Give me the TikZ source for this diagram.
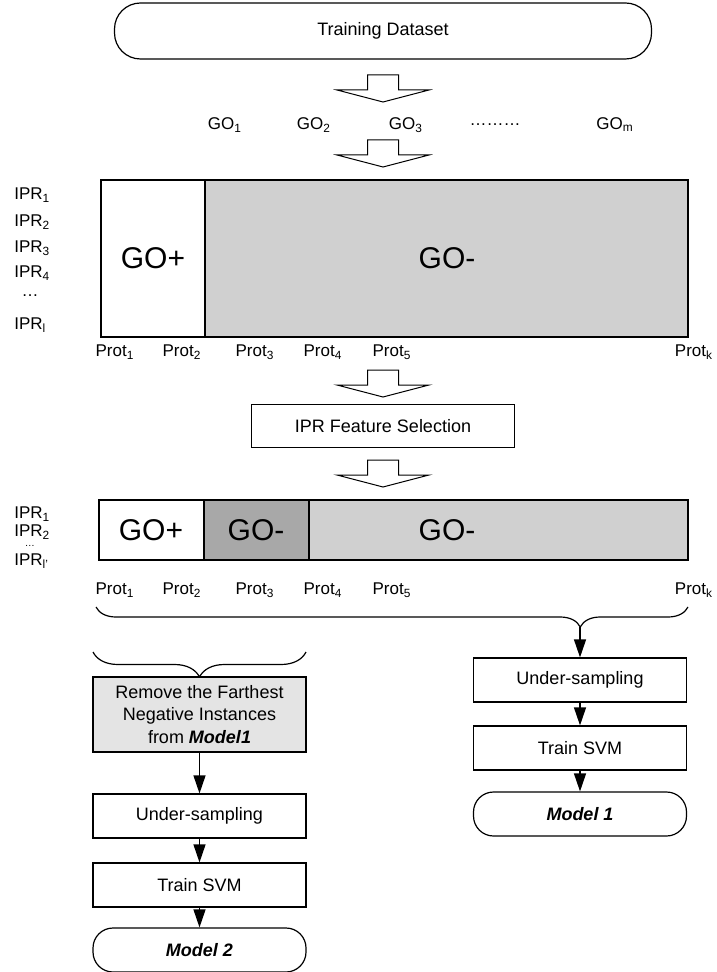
\documentclass[tikz,border=0pt]{standalone}
\usepackage{fontspec}
\setmainfont{Liberation Sans}
\usetikzlibrary{arrows.meta}
\usetikzlibrary{decorations.pathreplacing}

\definecolor{lightgrey}{HTML}{D0D0D0}
\definecolor{darkgrey}{HTML}{A8A8A8}
\definecolor{boxgrey}{HTML}{E4E4E4}

\tikzset{
  box/.style={draw, line width=0.6pt, minimum width=106.5pt, minimum height=22pt, inner sep=0pt, align=center, font=\fontsize{9}{11.25}\selectfont},
  term/.style={box, rounded corners=10pt},
  lbl/.style={inner sep=0pt, font=\fontsize{8.5}{10}\selectfont},
  big/.style={inner sep=0pt, font=\fontsize{15}{18}\selectfont},
  flow/.style={-{Triangle[length=9pt,width=6pt]}, line width=0.6pt},
  block/.style={line width=0.6pt},
  hollow/.pic={\draw [line width=0.5pt, fill=white] (-15.5,0) -- (15.5,0) -- (15.5,15) -- (46,15) -- (0,27) -- (-46,15) -- (-15.5,15) -- cycle;}
}

\begin{document}
\begin{tikzpicture}[x=0.5pt, y=-0.5pt]
      \useasboundingbox (0,0) rectangle (716,972);

      \node [term, minimum width=268.5pt, minimum height=28pt, rounded corners=13pt] (train) at (383,31) {Training Dataset};
      \pic at (383,75) {hollow};

      \node [lbl] (go1) at (225,125) {GO\textsubscript{1}};
      \node [lbl] (go2) at (314,125) {GO\textsubscript{2}};
      \node [lbl] (go3) at (406,125) {GO\textsubscript{3}};
      \node [lbl] (godots) at (495,125) {\dots\dots\dots};
      \node [lbl] (gom) at (615,125) {GO\textsubscript{m}};
      \pic at (383,140) {hollow};

      \draw [block, fill=lightgrey] (101,180) rectangle (688,337);
      \draw [block, fill=white] (101,180) rectangle (205,337);
      \node [big] (pos1) at (153,258) {GO+};
      \node [big] (neg1) at (447,258) {GO-};

      \foreach \i/\y in {1/195,2/222,3/248,4/273}
        \node [lbl, anchor=west] (ipra\i) at (14,\y) {IPR\textsubscript{\i}};
      \node [lbl] (iprdotsa) at (30,296) {\dots};
      \node [lbl, anchor=west] (ipral) at (14,325) {IPR\textsubscript{l}};

      \foreach \i/\x in {1/115,2/182,3/255,4/323,5/392,k/694}
        \node [lbl] (prota\i) at (\x,352) {Prot\textsubscript{\i}};

      \pic at (383,370) {hollow};
      \node [box, minimum width=131.5pt, minimum height=21.5pt] (select) at (383,426) {IPR Feature Selection};
      \pic at (383,460) {hollow};

      \draw [block, fill=lightgrey] (99,500) rectangle (688,560);
      \draw [block, fill=darkgrey] (204,500) rectangle (309,560);
      \draw [block, fill=white] (99,500) rectangle (204,560);
      \node [big] (pos2) at (151,530) {GO+};
      \node [big] (neg2) at (256,530) {GO-};
      \node [big] (neg3) at (447,530) {GO-};

      \node [lbl, anchor=west] (iprb1) at (14,514) {IPR\textsubscript{1}};
      \node [lbl, anchor=west] (iprb2) at (14,532) {IPR\textsubscript{2}};
      \node [lbl, font=\fontsize{5}{6}\selectfont] (iprdotsb) at (30,546) {\dots};
      \node [lbl, anchor=west] (iprbl) at (14,561) {IPR\textsubscript{l'}};

      \foreach \i/\x in {1/115,2/182,3/255,4/323,5/392,k/694}
        \node [lbl] (protb\i) at (\x,590) {Prot\textsubscript{\i}};

      \draw [block, decorate, decoration={brace, mirror, amplitude=10pt, aspect=0.818}] (96,607) -- (688,607);
      \coordinate (tipa) at (580,627);

      \node [box] (under1) at (580,680) {Under-sampling};
      \node [box] (svm1) at (580,748) {Train SVM};
      \node [term] (model1) at (580,814) {\textbf{\textit{Model 1}}};

      \draw [flow] (tipa) -- (under1);
      \draw [flow] (under1) -- (svm1);
      \draw [flow] (svm1) -- (model1);

      \draw [block, decorate, decoration={brace, mirror, amplitude=12.5pt}] (93,652) -- (306,652);

      \node [box, fill=boxgrey, minimum height=37.5pt] (remove) at (199.5,714.5) {Remove the Farthest\\Negative Instances\\from \textbf{\textit{Model1}}};
      \node [box] (under2) at (199.5,816) {Under-sampling};
      \node [box] (svm2) at (199.5,885) {Train SVM};
      \node [term] (model2) at (199.5,950) {\textbf{\textit{Model 2}}};

      \draw [flow] (remove) -- (under2);
      \draw [flow] (under2) -- (svm2);
      \draw [flow] (svm2) -- (model2);

  \end{tikzpicture}
\end{document}
